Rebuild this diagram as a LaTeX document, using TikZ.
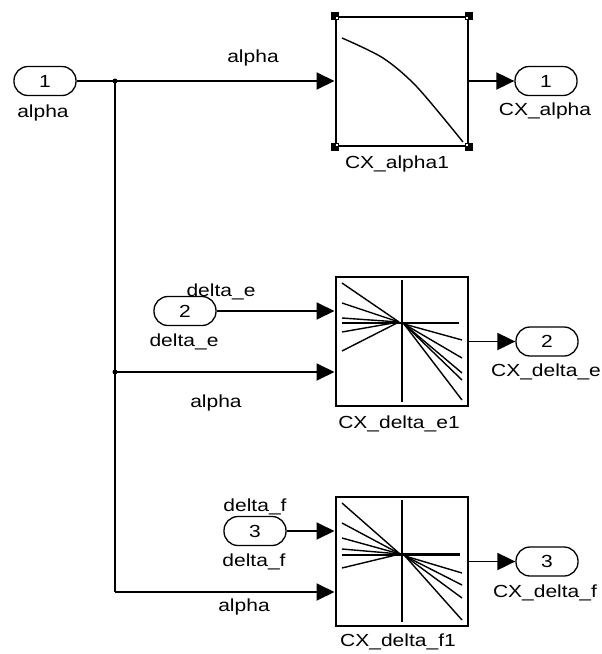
\documentclass[tikz,border=0pt]{standalone}
\usepackage{fontspec}
\setmainfont[FakeStretch=1.2]{Liberation Sans}
\usetikzlibrary{arrows.meta}
\begin{document}
\begin{tikzpicture}[x=1pt,y=-1pt,>={Triangle[length=18pt,width=17pt]},line width=1.9pt,
  font=\fontsize{17.5}{20}\selectfont,
  port/.style={draw,line width=1.3pt,rounded corners=14pt,minimum width=62pt,minimum height=29pt,inner sep=0pt},
  lut/.style={draw,line width=2pt,minimum width=132pt,minimum height=129pt,inner sep=0pt},
  txt/.style={inner sep=0pt,text height=12pt,text depth=1pt},
  icon/.style={line width=1.4pt}]
\useasboundingbox (0,0) rectangle (602,654);

\node[port](in1) at (45,81){1};
\node[txt](in1l) at (43,112){alpha};
\node[port](in2) at (185,311){2};
\node[txt](in2l) at (184,341){delta\_e};
\node[port](in3) at (255,531){3};
\node[txt](in3l) at (254,561){delta\_f};

\node[lut](lut1) at (401.5,81){};
\node[txt](lut1l) at (397,163){CX\_alpha1};
\node[lut](lut2) at (401.5,341.5){};
\node[txt](lut2l) at (399,423){CX\_delta\_e1};
\node[lut](lut3) at (401.5,561.5){};
\node[txt](lut3l) at (398,641){CX\_delta\_f1};

\node[port](out1) at (546,81){1};
\node[txt](out1l) at (545,110){CX\_alpha};
\node[port](out2) at (547,341.5){2};
\node[txt](out2l) at (546,371){CX\_delta\_e};
\node[port](out3) at (547,561.5){3};
\node[txt](out3l) at (545,592){CX\_delta\_f};

\coordinate(j1) at (115,81);
\coordinate(j2) at (115,372);
\coordinate(j3) at (115,592);

% signals
\draw (in1) -- (j1);
\draw[->] (j1) -- (lut1);
\draw (j1) -- (j3);
\draw[->] (in2) -- (in2 -| lut2.west);
\draw[->] (j2) -- (j2 -| lut2.west);
\draw[->] (in3) -- (in3 -| lut3.west);
\draw[->] (j3) -- (j3 -| lut3.west);
\draw[->] (lut1) -- (out1);
\draw[->] (lut2) -- (out2);
\draw[->] (lut3) -- (out3);
\fill (j1) circle (2.5pt);
\fill (j2) circle (2.5pt);

\node[txt](s1) at (253,57){alpha};
\node[txt](s2) at (221,291){delta\_e};
\node[txt](s3) at (216,402){alpha};
\node[txt](s4) at (255,506){delta\_f};
\node[txt](s5) at (244,606){alpha};

% icons
\draw[icon] plot[smooth] coordinates {(342,38) (383,58) (417,87) (463,142)};
\fill (lut1.north west) +(-4,-4) rectangle +(4,4);
\fill (lut1.north east) +(-4,-4) rectangle +(4,4);
\fill (lut1.south west) +(-4,-4) rectangle +(4,4);
\fill (lut1.south east) +(-4,-4) rectangle +(4,4);
\fill[white] (lut1.north west) +(1,1) rectangle +(3,3);
\fill[white] (lut1.north east) +(-1,1) rectangle +(-3,3);
\fill[white] (lut1.south west) +(1,-1) rectangle +(3,-3);
\fill[white] (lut1.south east) +(-1,-1) rectangle +(-3,-3);

\draw[icon] (402,280) -- (402,402);
\draw[icon] (342,323) -- (459,323);
\foreach \y in {283,303,318,332,351}
  \draw[icon] (342,\y) -- (399,322);
\foreach \y in {340,358,373,380,400}
  \draw[icon] (404,324) -- (462,\y);

\draw[icon] (402,500) -- (402,622);
\draw[icon] (342,555) -- (400,555);
\draw[line width=3pt] (400,554) -- (460,554);
\foreach \y in {503,523,538,549,568}
  \draw[icon] (342,\y) -- (400,554);
\foreach \y in {573,585,598,620}
  \draw[icon] (405,556) -- (462,\y);
\end{tikzpicture}
\end{document}
